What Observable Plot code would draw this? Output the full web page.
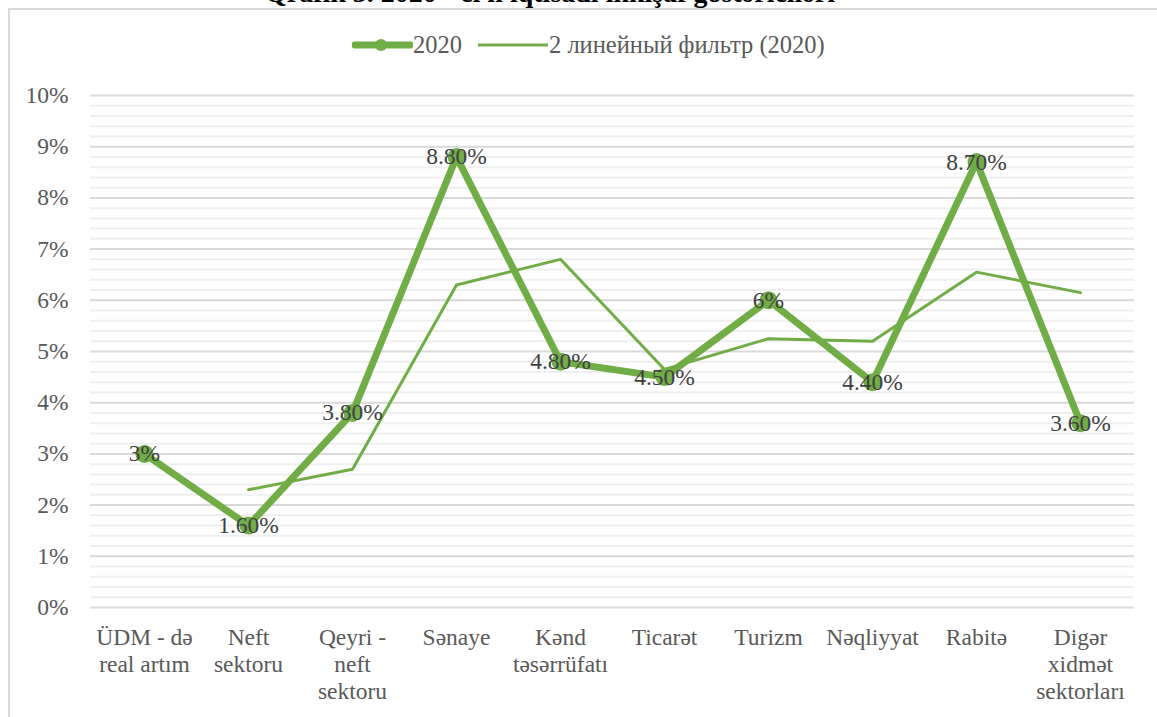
<!DOCTYPE html>
<html>
<head>
<meta charset="utf-8">
<script src="https://cdn.jsdelivr.net/npm/d3@7"></script>
<script src="https://cdn.jsdelivr.net/npm/@observablehq/plot@0.6"></script>
<style>
  html, body { margin: 0; padding: 0; background: #fff; }
  #wrap { position: relative; width: 1157px; height: 717px; overflow: hidden; font-family: "Liberation Serif", "Times New Roman", serif; }
  #frame { position: absolute; left: 8px; top: 8px; width: 1160px; height: 720px; border-left: 2px solid #d9d9d9; border-top: 2px solid #d9d9d9; box-sizing: border-box; }
  #title { position: absolute; left: 0; width: 1100px; top: -23px; text-align: center; font-weight: bold; font-size: 28px; color: #000; white-space: nowrap; font-family: "Liberation Serif", serif; }
  #legend { position: absolute; top: 31px; left: 352px; display: flex; align-items: center; font-size: 24.5px; color: #595959; font-family: "Liberation Serif", serif; white-space: nowrap; }
  #legend .item { display: flex; align-items: center; }
  #chart { position: absolute; left: 0; top: 0; }
  #chart svg, #chart svg text { font-family: "Liberation Serif", "Times New Roman", serif !important; }
</style>
</head>
<body>
<div id="wrap">
  <div id="frame"></div>
  <div id="title">Qrafik 3. 2020 - ci il iqtisadi inkişaf göstəriciləri</div>
  <div id="chart"></div>
  <div id="legend"></div>
</div>
<script>
const categories = ["ÜDM - də\nreal artım", "Neft\nsektoru", "Qeyri -\nneft\nsektoru", "Sənaye", "Kənd\ntəsərrüfatı", "Ticarət", "Turizm", "Nəqliyyat", "Rabitə", "Digər\nxidmət\nsektorları"];
const values2020 = [3, 1.6, 3.8, 8.8, 4.8, 4.5, 6, 4.4, 8.7, 3.6];
const valueLabels = ["3%", "1.60%", "3.80%", "8.80%", "4.80%", "4.50%", "6%", "4.40%", "8.70%", "3.60%"];
const filterValues = [null, 2.3, 2.7, 6.3, 6.8, 4.65, 5.25, 5.2, 6.55, 6.15];
const seriesName = "2020";
const filterName = "2 линейный фильтр (2020)";
const yMajorTicks = [0, 1, 2, 3, 4, 5, 6, 7, 8, 9, 10];

const green = "#70ad47";
const main = categories.map((c, i) => ({cat: c, v: values2020[i], label: valueLabels[i]}));
const trend = categories.map((c, i) => ({cat: c, v: filterValues[i]})).filter(d => d.v != null);
const yMinor = d3.range(0, 10.001, 0.2).filter(v => Math.abs(v - Math.round(v)) > 1e-6);

const plot = Plot.plot({
  width: 1157,
  height: 717,
  marginLeft: 90,
  marginRight: 23,
  marginTop: 95,
  marginBottom: 110,
  style: {fontFamily: "Liberation Serif", fontSize: "23.5px", color: "#595959", background: "transparent"},
  x: {type: "point", domain: categories, padding: 0.5, label: null},
  y: {domain: [0, 10], label: null},
  marks: [
    Plot.ruleY(yMinor, {stroke: "#efefef", strokeWidth: 2}),
    Plot.ruleY(yMajorTicks, {stroke: "#d9d9d9", strokeWidth: 2}),
    Plot.axisY({ticks: yMajorTicks, tickSize: 0, tickPadding: 22, tickFormat: d => d + "%", fontSize: 23.5, fill: "#595959", label: null}),
    Plot.axisX({tickSize: 0, tickPadding: 18, lineHeight: 1.15, fontSize: 23.5, fill: "#595959", label: null}),
    Plot.line(main, {x: "cat", y: "v", stroke: green, strokeWidth: 7, strokeLinejoin: "round", strokeLinecap: "round"}),
    Plot.dot(main, {x: "cat", y: "v", r: 9, fill: green, stroke: "none"}),
    Plot.line(trend, {x: "cat", y: "v", stroke: green, strokeWidth: 3}),
    Plot.text(main, {x: "cat", y: "v", text: "label", fontSize: 23.5, fill: "#404040", textAnchor: "middle", lineAnchor: "middle"})
  ]
});
document.getElementById("chart").appendChild(plot);

const legend = document.getElementById("legend");
legend.innerHTML = `
  <div class="item"><svg width="61" height="20"><line x1="3" y1="10" x2="58" y2="10" stroke="${green}" stroke-width="7" stroke-linecap="round"/><circle cx="29" cy="10" r="6" fill="${green}"/></svg><span>${seriesName}</span></div>
  <div class="item" style="margin-left:16px"><svg width="71" height="20"><line x1="0" y1="10" x2="70" y2="10" stroke="${green}" stroke-width="3"/></svg><span>${filterName}</span></div>`;
</script>
</body>
</html>
